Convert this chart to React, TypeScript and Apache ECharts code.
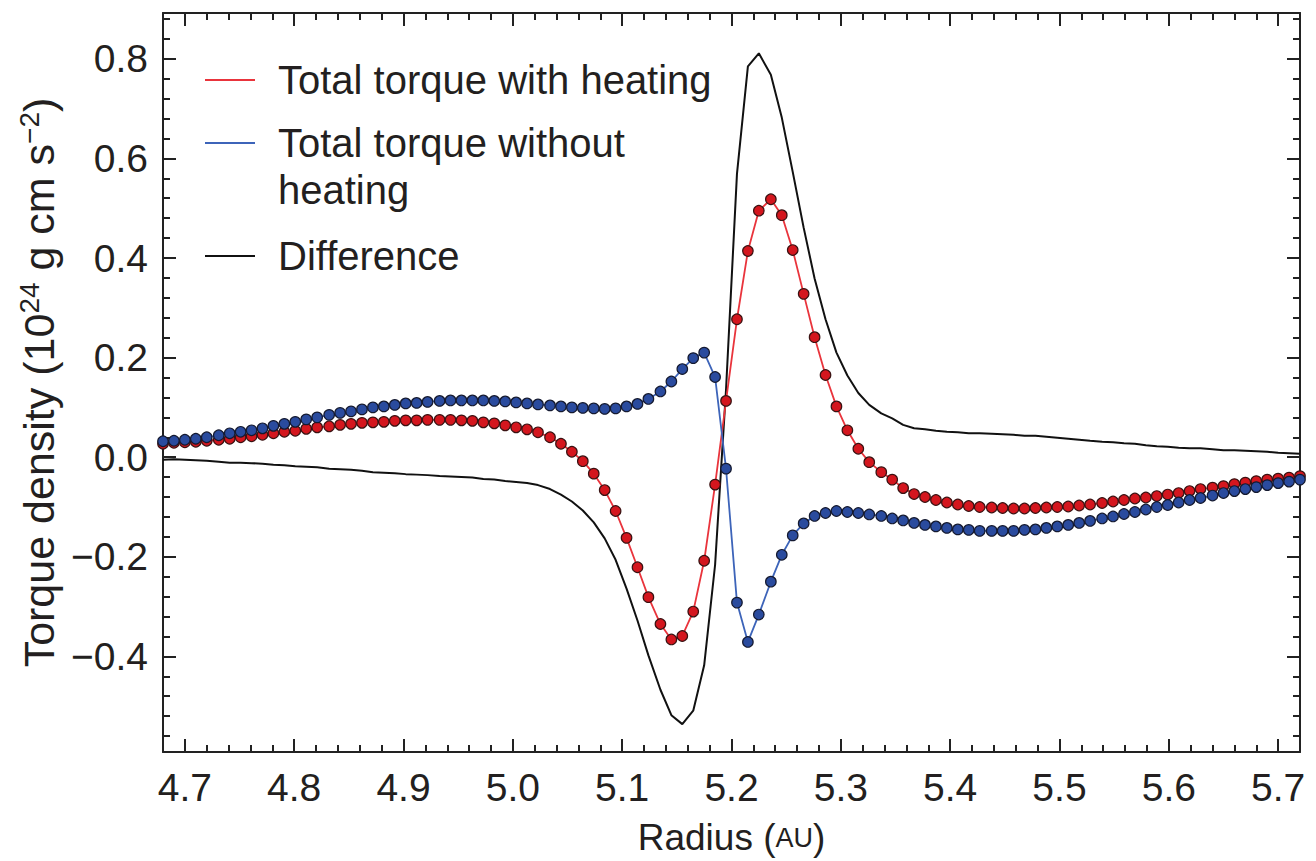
import React, { useEffect, useRef } from "react";
import * as echarts from "echarts";

// Radius grid (AU)
const radius: number[] = [
  4.680, 4.690, 4.700, 4.710, 4.720, 4.731, 4.741, 4.751, 4.761, 4.771,
  4.781, 4.791, 4.801, 4.811, 4.821, 4.832, 4.842, 4.852, 4.862, 4.872,
  4.882, 4.892, 4.902, 4.912, 4.922, 4.933, 4.943, 4.953, 4.963, 4.973,
  4.983, 4.993, 5.003, 5.013, 5.023, 5.034, 5.044, 5.054, 5.064, 5.074,
  5.084, 5.094, 5.104, 5.114, 5.124, 5.135, 5.145, 5.155, 5.165, 5.175,
  5.185, 5.195, 5.205, 5.215, 5.225, 5.236, 5.246, 5.256, 5.266, 5.276,
  5.286, 5.296, 5.306, 5.316, 5.326, 5.337, 5.347, 5.357, 5.367, 5.377,
  5.387, 5.397, 5.407, 5.417, 5.427, 5.438, 5.448, 5.458, 5.468, 5.478,
  5.488, 5.498, 5.508, 5.518, 5.528, 5.539, 5.549, 5.559, 5.569, 5.579,
  5.589, 5.599, 5.609, 5.619, 5.629, 5.640, 5.650, 5.660, 5.670, 5.680,
  5.690, 5.700, 5.710, 5.720,
];

// Total torque with heating (red)
const withHeating: number[] = [
  0.027, 0.029, 0.030, 0.031, 0.033, 0.035, 0.037, 0.040, 0.042, 0.045,
  0.048, 0.051, 0.053, 0.057, 0.060, 0.062, 0.065, 0.067, 0.069, 0.070,
  0.071, 0.073, 0.074, 0.074, 0.075, 0.075, 0.075, 0.074, 0.073, 0.070,
  0.068, 0.064, 0.060, 0.056, 0.050, 0.040, 0.027, 0.011, -0.008, -0.033,
  -0.066, -0.108, -0.162, -0.221, -0.281, -0.335, -0.366, -0.359, -0.310, -0.208,
  -0.055, 0.113, 0.277, 0.414, 0.495, 0.518, 0.486, 0.416, 0.328, 0.241,
  0.165, 0.102, 0.054, 0.017, -0.010, -0.030, -0.045, -0.062, -0.074, -0.080,
  -0.086, -0.091, -0.095, -0.098, -0.100, -0.101, -0.102, -0.103, -0.103, -0.102,
  -0.101, -0.100, -0.099, -0.097, -0.095, -0.092, -0.089, -0.086, -0.083, -0.081,
  -0.078, -0.075, -0.072, -0.068, -0.064, -0.061, -0.058, -0.054, -0.051, -0.048,
  -0.045, -0.043, -0.041, -0.038,
];

// Total torque without heating (blue)
const withoutHeating: number[] = [
  0.032, 0.033, 0.035, 0.037, 0.040, 0.044, 0.048, 0.051, 0.054, 0.058,
  0.063, 0.067, 0.071, 0.076, 0.080, 0.085, 0.089, 0.092, 0.096, 0.100,
  0.102, 0.105, 0.108, 0.109, 0.111, 0.113, 0.114, 0.114, 0.114, 0.114,
  0.113, 0.112, 0.110, 0.108, 0.106, 0.104, 0.102, 0.100, 0.099, 0.098,
  0.097, 0.098, 0.102, 0.107, 0.117, 0.132, 0.152, 0.177, 0.199, 0.210,
  0.161, -0.023, -0.292, -0.371, -0.316, -0.250, -0.196, -0.157, -0.133, -0.118,
  -0.112, -0.108, -0.110, -0.112, -0.115, -0.118, -0.123, -0.127, -0.132, -0.136,
  -0.139, -0.142, -0.145, -0.146, -0.148, -0.148, -0.148, -0.148, -0.146, -0.145,
  -0.142, -0.139, -0.136, -0.132, -0.128, -0.123, -0.119, -0.114, -0.110, -0.105,
  -0.100, -0.096, -0.091, -0.086, -0.082, -0.077, -0.072, -0.068, -0.064, -0.060,
  -0.056, -0.052, -0.049, -0.045,
];

// Difference (black)
const difference: number[] = [
  -0.005, -0.004, -0.005, -0.006, -0.007, -0.009, -0.011, -0.011, -0.012, -0.013,
  -0.015, -0.016, -0.018, -0.019, -0.020, -0.023, -0.024, -0.025, -0.027, -0.030,
  -0.031, -0.032, -0.034, -0.035, -0.036, -0.038, -0.039, -0.040, -0.041, -0.044,
  -0.045, -0.048, -0.050, -0.052, -0.056, -0.064, -0.075, -0.089, -0.107, -0.131,
  -0.163, -0.206, -0.264, -0.328, -0.398, -0.467, -0.518, -0.536, -0.509, -0.418,
  -0.216, 0.136, 0.569, 0.785, 0.811, 0.768, 0.682, 0.573, 0.461, 0.359,
  0.277, 0.210, 0.164, 0.129, 0.105, 0.088, 0.078, 0.065, 0.058, 0.056,
  0.053, 0.051, 0.050, 0.048, 0.048, 0.047, 0.046, 0.045, 0.043, 0.043,
  0.041, 0.039, 0.037, 0.035, 0.033, 0.031, 0.030, 0.028, 0.027, 0.024,
  0.022, 0.021, 0.019, 0.018, 0.018, 0.016, 0.014, 0.014, 0.013, 0.012,
  0.011, 0.009, 0.008, 0.007,
];

const xMajorTicks: number[] = [4.7, 4.8, 4.9, 5.0, 5.1, 5.2, 5.3, 5.4, 5.5, 5.6, 5.7];
const yMajorTicks: number[] = [-0.4, -0.2, 0.0, 0.2, 0.4, 0.6, 0.8];

const X_MIN = 4.68;
const X_MAX = 5.72;
const Y_MIN = -0.592;
const Y_MAX = 0.892;

function minorTicks(lo: number, hi: number, step: number, majors: number[]): number[] {
  const out: number[] = [];
  const n0 = Math.ceil(lo / step - 1e-6);
  const n1 = Math.floor(hi / step + 1e-6);
  for (let n = n0; n <= n1; n++) {
    const v = Math.round(n * step * 1000) / 1000;
    if (!majors.some((m) => Math.abs(m - v) < 1e-6)) out.push(v);
  }
  return out;
}

const FONT = "'Liberation Sans', Arial, Helvetica, sans-serif";
const TEXT = "#231f20";
const AX = "#222222";
const TICK_FS = 39;
const LEG_FS = 40;

export default function App() {
  const ref = useRef<HTMLDivElement>(null);

  useEffect(() => {
    if (!ref.current) return;
    const chart = echarts.init(ref.current, undefined, { renderer: "svg" });

    const xMinor = minorTicks(X_MIN, X_MAX, 0.02, xMajorTicks);
    const yMinor = minorTicks(Y_MIN, Y_MAX, 0.04, yMajorTicks);

    const tickLine = { color: AX, width: 2 };
    const baseX = {
      type: "value" as const,
      min: X_MIN,
      max: X_MAX,
      splitLine: { show: false },
    };
    const baseY = {
      type: "value" as const,
      min: Y_MIN,
      max: Y_MAX,
      splitLine: { show: false },
    };

    const fmtY = (v: number) => (v < 0 ? "\u2212" : "") + Math.abs(v).toFixed(1);

    const option: any = {
      animation: false,
      backgroundColor: "#ffffff",
      grid: { left: 163, right: 16, top: 13, bottom: 108, containLabel: false },
      xAxis: [
        {
          ...baseX,
          position: "bottom",
          axisLine: { show: true, onZero: false, lineStyle: { color: AX, width: 2 } },
          axisTick: { show: true, inside: true, length: 13, lineStyle: tickLine, customValues: xMajorTicks },
          axisLabel: {
            show: true,
            customValues: xMajorTicks,
            formatter: (v: number) => v.toFixed(1),
            fontSize: TICK_FS,
            fontFamily: FONT,
            color: TEXT,
            margin: 16,
          },
          name: "Radius ({sc|AU})",
          nameLocation: "middle",
          nameGap: 67,
          nameTextStyle: {
            fontSize: 37,
            fontFamily: FONT,
            color: TEXT,
            rich: { sc: { fontSize: 27, fontFamily: FONT, color: TEXT } },
          },
        },
        {
          ...baseX,
          position: "bottom",
          axisLine: { show: false, onZero: false },
          axisTick: { show: true, inside: true, length: 7, lineStyle: tickLine, customValues: xMinor },
          axisLabel: { show: false },
        },
        {
          ...baseX,
          position: "top",
          axisLine: { show: true, onZero: false, lineStyle: { color: AX, width: 2 } },
          axisTick: { show: true, inside: true, length: 13, lineStyle: tickLine, customValues: xMajorTicks },
          axisLabel: { show: false },
        },
        {
          ...baseX,
          position: "top",
          axisLine: { show: false, onZero: false },
          axisTick: { show: true, inside: true, length: 7, lineStyle: tickLine, customValues: xMinor },
          axisLabel: { show: false },
        },
      ],
      yAxis: [
        {
          ...baseY,
          position: "left",
          axisLine: { show: true, onZero: false, lineStyle: { color: AX, width: 2 } },
          axisTick: { show: true, inside: true, length: 13, lineStyle: tickLine, customValues: yMajorTicks },
          axisLabel: {
            show: true,
            customValues: yMajorTicks,
            formatter: fmtY,
            fontSize: TICK_FS,
            fontFamily: FONT,
            color: TEXT,
            margin: 15,
          },
          name: "Torque density (10{sup|24} g cm s{sup|\u22122})",
          nameLocation: "middle",
          nameRotate: 90,
          nameGap: 94,
          nameTextStyle: {
            fontSize: 43,
            fontFamily: FONT,
            color: TEXT,
            rich: {
              sup: { fontSize: 28, fontFamily: FONT, color: TEXT, verticalAlign: "top", lineHeight: 47 },
            },
          },
        },
        {
          ...baseY,
          position: "left",
          axisLine: { show: false, onZero: false },
          axisTick: { show: true, inside: true, length: 7, lineStyle: tickLine, customValues: yMinor },
          axisLabel: { show: false },
        },
        {
          ...baseY,
          position: "right",
          axisLine: { show: true, onZero: false, lineStyle: { color: AX, width: 2 } },
          axisTick: { show: true, inside: true, length: 13, lineStyle: tickLine, customValues: yMajorTicks },
          axisLabel: { show: false },
        },
        {
          ...baseY,
          position: "right",
          axisLine: { show: false, onZero: false },
          axisTick: { show: true, inside: true, length: 7, lineStyle: tickLine, customValues: yMinor },
          axisLabel: { show: false },
        },
      ],
      series: [
        {
          name: "Difference",
          type: "line",
          xAxisIndex: 0,
          yAxisIndex: 0,
          data: radius.map((r, i) => [r, difference[i]]),
          showSymbol: false,
          symbol: "none",
          lineStyle: { color: "#111111", width: 2 },
          z: 2,
        },
        {
          name: "Total torque with heating",
          type: "line",
          xAxisIndex: 0,
          yAxisIndex: 0,
          data: radius.map((r, i) => [r, withHeating[i]]),
          symbol: "circle",
          symbolSize: 10.5,
          showSymbol: true,
          itemStyle: { color: "#d4161e", borderColor: "#3a1212", borderWidth: 1.2 },
          lineStyle: { color: "#e9343c", width: 1.8 },
          z: 3,
        },
        {
          name: "Total torque without heating",
          type: "line",
          xAxisIndex: 0,
          yAxisIndex: 0,
          data: radius.map((r, i) => [r, withoutHeating[i]]),
          symbol: "circle",
          symbolSize: 10.5,
          showSymbol: true,
          itemStyle: { color: "#2a4b9e", borderColor: "#151a30", borderWidth: 1.2 },
          lineStyle: { color: "#3d64b9", width: 1.8 },
          z: 4,
        },
      ],
      graphic: [
        { type: "line", shape: { x1: 205, y1: 80, x2: 255, y2: 80 }, style: { stroke: "#e9343c", lineWidth: 2 } },
        { type: "text", x: 278, y: 80, style: { text: "Total torque with heating", font: `${LEG_FS}px ${FONT}`, fill: TEXT, verticalAlign: "middle" } },
        { type: "line", shape: { x1: 205, y1: 143, x2: 255, y2: 143 }, style: { stroke: "#3d64b9", lineWidth: 2 } },
        { type: "text", x: 278, y: 143, style: { text: "Total torque without", font: `${LEG_FS}px ${FONT}`, fill: TEXT, verticalAlign: "middle" } },
        { type: "text", x: 278, y: 190, style: { text: "heating", font: `${LEG_FS}px ${FONT}`, fill: TEXT, verticalAlign: "middle" } },
        { type: "line", shape: { x1: 205, y1: 256, x2: 255, y2: 256 }, style: { stroke: "#111111", lineWidth: 2 } },
        { type: "text", x: 278, y: 256, style: { text: "Difference", font: `${LEG_FS}px ${FONT}`, fill: TEXT, verticalAlign: "middle" } },
      ],
    };

    chart.setOption(option);
    return () => chart.dispose();
  }, []);

  return (
    <div
      ref={ref}
      style={{ position: "fixed", left: 0, top: 0, width: 1316, height: 861, background: "#fff" }}
    />
  );
}
